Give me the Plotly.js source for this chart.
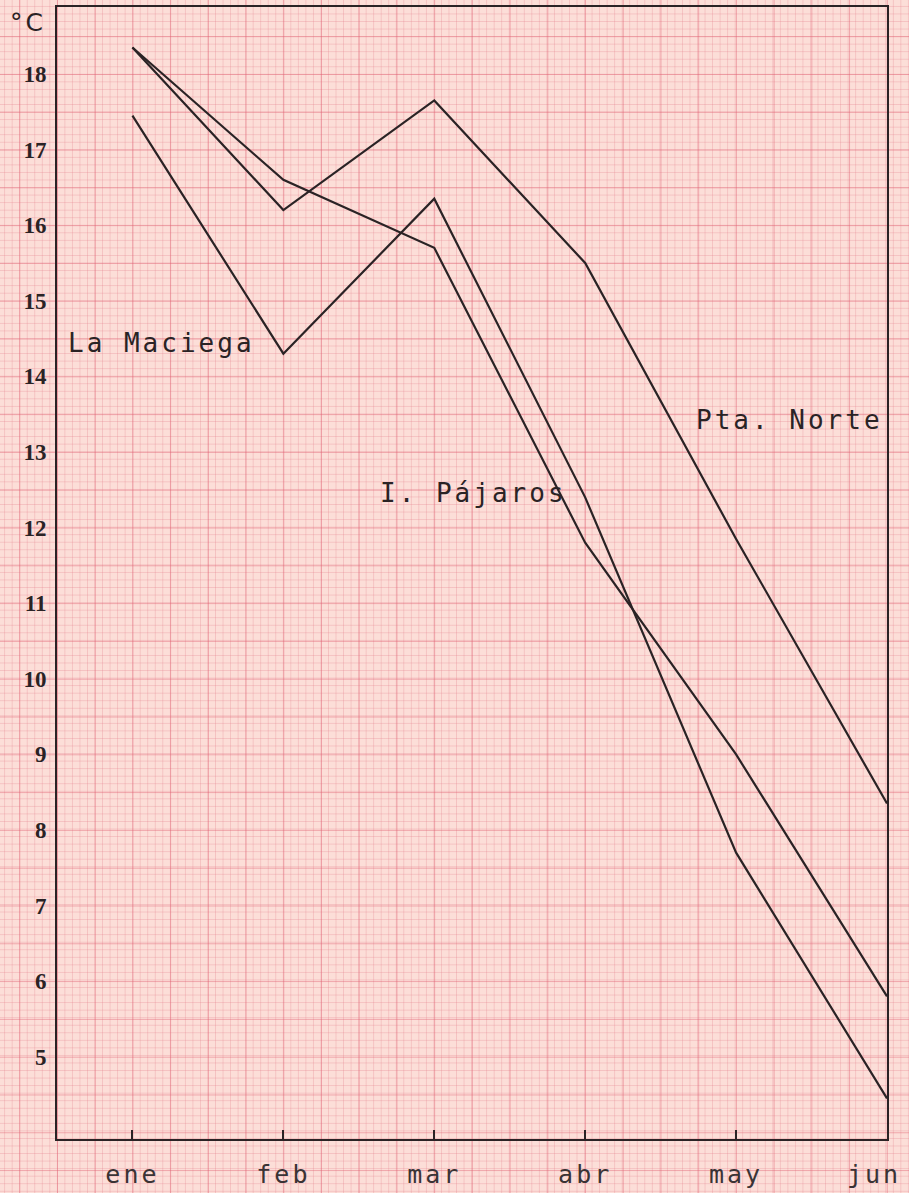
<!DOCTYPE html>
<html>
<head>
<meta charset="utf-8">
<script src="https://cdn.plot.ly/plotly-3.0.1.min.js"></script>
<style>
  html, body { margin:0; padding:0; width:909px; height:1193px; overflow:hidden; background:#fcded8; }
  #chart { width:909px; height:1193px; }
  .xtick text, .annotation-text { letter-spacing: 3px; }
</style>
</head>
<body>
<div id="chart"></div>
<script>
// ---- data ----
const months = ["ene", "feb", "mar", "abr", "may", "jun"];
const monthIndex = [0, 1, 2, 3, 4, 5];
const ptaNorte  = [18.35, 16.2, 17.65, 15.5, 11.85, 8.35];
const iPajaros  = [18.35, 16.6, 15.7, 11.8, 9.0, 5.8];
const laMaciega = [17.45, 14.3, 16.35, 12.4, 7.7, 4.45];
const yTickVals = [5, 6, 7, 8, 9, 10, 11, 12, 13, 14, 15, 16, 17, 18];
const unitLabel = "°C";
const seriesLabels = ["La Maciega", "I. Pájaros", "Pta. Norte"];

const lineStyle = { color: "#2a2325", width: 2.2 };
const traces = [
  { x: monthIndex, y: ptaNorte,  name: "Pta. Norte", mode: "lines", line: lineStyle },
  { x: monthIndex, y: iPajaros,  name: "I. Pájaros", mode: "lines", line: lineStyle },
  { x: monthIndex, y: laMaciega, name: "La Maciega", mode: "lines", line: lineStyle }
];

const labelFont = { family: "DejaVu Sans Mono, monospace", size: 26, color: "#2a2325" };
const monthFont = { family: "DejaVu Sans Mono, monospace", size: 25, color: "#3a3335" };
const lastIdx = monthIndex.length - 1;
// the last month label is drawn as an annotation so it can sit left-aligned against the page edge
const tickText = months.map((m, i) => (i === lastIdx ? "" : m));

const layout = {
  width: 909, height: 1193,
  margin: { l: 57, r: 22, t: 7, b: 54 },
  paper_bgcolor: "rgba(0,0,0,0)",
  plot_bgcolor: "rgba(0,0,0,0)",
  showlegend: false,
  xaxis: {
    range: [-0.5, 5], tickvals: monthIndex, ticktext: tickText,
    showgrid: false, zeroline: false,
    showline: true, mirror: true, linecolor: "#2a2325", linewidth: 2,
    ticks: "inside", ticklen: 9, tickwidth: 2, tickcolor: "#2a2325",
    ticklabelstandoff: 12,
    tickfont: monthFont,
    fixedrange: true
  },
  yaxis: {
    range: [3.913, 18.886], tickvals: yTickVals,
    showgrid: false, zeroline: false,
    showline: true, mirror: true, linecolor: "#2a2325", linewidth: 2,
    ticks: "", ticklabelstandoff: 4,
    tickfont: { family: "Liberation Serif, serif", size: 23, color: "#2a2325", weight: "bold" },
    fixedrange: true
  },
  annotations: [
    { text: seriesLabels[0], xref: "x", yref: "y", x: -0.44, y: 14.44, xanchor: "left", yanchor: "middle", showarrow: false, font: labelFont },
    { text: seriesLabels[1], xref: "x", yref: "y", x: 1.63, y: 12.46, xanchor: "left", yanchor: "middle", showarrow: false, font: labelFont },
    { text: seriesLabels[2], xref: "x", yref: "y", x: 4.99, y: 13.42, xanchor: "right", yanchor: "middle", showarrow: false, font: labelFont },
    { text: months[lastIdx], xref: "x", yref: "paper", x: monthIndex[lastIdx], y: 0, xanchor: "right", yanchor: "middle",
      xshift: 16, yshift: -35, showarrow: false, font: monthFont },
    { text: unitLabel, xref: "paper", yref: "paper", x: -0.011, y: 0.9865, xanchor: "right", yanchor: "middle", showarrow: false,
      font: { family: "DejaVu Sans, sans-serif", size: 25, color: "#2a2325" } }
  ]
};

const gd = document.getElementById("chart");
Plotly.newPlot(gd, traces, layout, { staticPlot: true, displayModeBar: false }).then(function () {
  // graph-paper background aligned with the plot's scales
  const xa = gd._fullLayout.xaxis, ya = gd._fullLayout.yaxis;
  const x0 = xa._offset + xa.l2p(0);
  const xMajor = Math.abs(xa.l2p(0.25) - xa.l2p(0));
  const y0 = ya._offset + ya.l2p(18);
  const yMajor = Math.abs(ya.l2p(17.5) - ya.l2p(18));
  const xMinor = xMajor / 5, yMinor = yMajor / 5;
  const major = "rgba(224,96,114,0.45)", minor = "rgba(228,128,140,0.30)";
  const b = document.body;
  b.style.backgroundImage = [
    `linear-gradient(to right, ${major} 1.2px, transparent 1.2px)`,
    `linear-gradient(to bottom, ${major} 1.2px, transparent 1.2px)`,
    `linear-gradient(to right, ${minor} 1px, transparent 1px)`,
    `linear-gradient(to bottom, ${minor} 1px, transparent 1px)`
  ].join(",");
  b.style.backgroundSize = `${xMajor}px ${yMajor}px, ${xMajor}px ${yMajor}px, ${xMinor}px ${yMinor}px, ${xMinor}px ${yMinor}px`;
  const px = (x0 % xMajor), py = (y0 % yMajor);
  const pmx = (x0 % xMinor), pmy = (y0 % yMinor);
  b.style.backgroundPosition = `${px}px 0px, 0px ${py}px, ${pmx}px 0px, 0px ${pmy}px`;
});
</script>
</body>
</html>
